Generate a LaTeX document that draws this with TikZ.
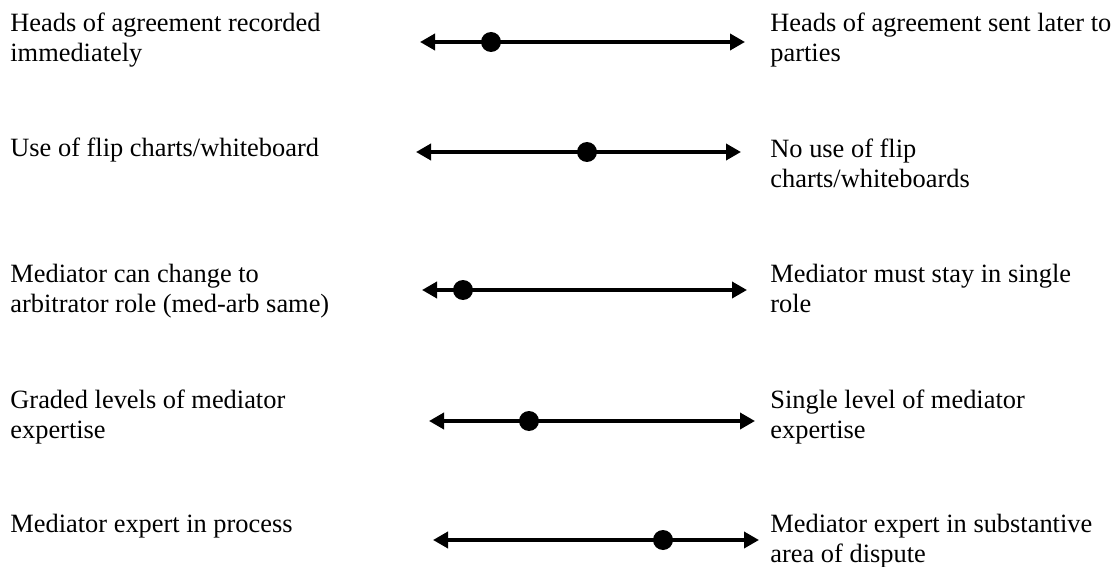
\documentclass[tikz,border=0pt]{standalone}
\usepackage{fontspec}
\setmainfont{Liberation Serif}
\usetikzlibrary{arrows.meta}
\begin{document}
\begin{tikzpicture}[x=0.5pt,y=-0.5pt,
	scaleline/.style={line width=1.8pt,arrows={Triangle[length=7.5pt,width=8pt]-Triangle[length=7.5pt,width=8pt]}},
	slider/.style={circle,fill,inner sep=0,minimum size=10pt},
	lbl/.style={inner sep=0,anchor=base west,align=left,font=\fontsize{13.2}{15}\selectfont}]
	\useasboundingbox (0,0) rectangle (1115,567);

	\node[lbl] (l1) at (10,62) {Heads of agreement recorded\\immediately};
	\node[lbl] (r1) at (770,62) {Heads of agreement sent later to\\parties};
	\coordinate (a1) at (420,42);
	\coordinate (b1) at (745,42);
	\draw[scaleline] (a1) -- (b1);
	\node[slider] (d1) at (491,42) {};

	\node[lbl] (l2) at (10,157) {Use of flip charts/whiteboard};
	\node[lbl] (r2) at (770,188) {No use of flip\\charts/whiteboards};
	\coordinate (a2) at (416,152);
	\coordinate (b2) at (741,152);
	\draw[scaleline] (a2) -- (b2);
	\node[slider] (d2) at (587,152) {};

	\node[lbl] (l3) at (10,312) {Mediator can change to\\arbitrator role (med-arb same)};
	\node[lbl] (r3) at (770,312) {Mediator must stay in single\\role};
	\coordinate (a3) at (422,290);
	\coordinate (b3) at (747,290);
	\draw[scaleline] (a3) -- (b3);
	\node[slider] (d3) at (463,290) {};

	\node[lbl] (l4) at (10,438) {Graded levels of mediator\\expertise};
	\node[lbl] (r4) at (770,438) {Single level of mediator\\expertise};
	\coordinate (a4) at (429,421);
	\coordinate (b4) at (755,421);
	\draw[scaleline] (a4) -- (b4);
	\node[slider] (d4) at (529,421) {};

	\node[lbl] (l5) at (10,532) {Mediator expert in process};
	\node[lbl] (r5) at (770,562) {Mediator expert in substantive\\area of dispute};
	\coordinate (a5) at (433,540);
	\coordinate (b5) at (759,540);
	\draw[scaleline] (a5) -- (b5);
	\node[slider] (d5) at (663,540) {};
\end{tikzpicture}
\end{document}
